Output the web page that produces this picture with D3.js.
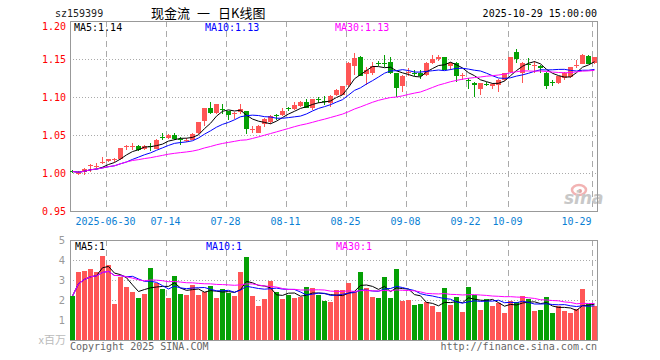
<!DOCTYPE html>
<html>
<head>
    <meta charset="utf-8" />
    <title>现金流 日K线图</title>
    <style>
        body { margin: 0; background: #fff; }
        text { font-family: "DejaVu Sans Mono", monospace; font-size: 10px; }
        .grid-h { stroke: #aaa; stroke-dasharray: 1,2; shape-rendering: crispEdges; }
        .grid-v { stroke: #aaa; stroke-dasharray: 6,4; shape-rendering: crispEdges; }
        .frame { fill: none; stroke: #999; shape-rendering: crispEdges; }
        .axis path, .axis line { display: none; }
        .ma { fill: none; stroke-width: 1px; }
        .cjk { font-family: "Noto Sans CJK SC", sans-serif; font-size: 13px; }
    </style>
    <script src="https://cdn.jsdelivr.net/npm/d3@7"></script>
</head>
<body>
<script>
    // trading days shown (2025)
    const dates = [
        '06-20','06-23','06-24','06-25','06-26','06-27','06-30',
        '07-01','07-02','07-03','07-04','07-07','07-08','07-09','07-10','07-11',
        '07-14','07-15','07-16','07-17','07-18','07-21','07-22','07-23','07-24','07-25',
        '07-28','07-29','07-30','07-31','08-01',
        '08-04','08-05','08-06','08-07','08-08','08-11','08-12','08-13','08-14','08-15',
        '08-18','08-19','08-20','08-21','08-22','08-25','08-26','08-27','08-28','08-29',
        '09-01','09-02','09-03','09-04','09-05','09-08','09-09','09-10','09-11','09-12',
        '09-15','09-16','09-17','09-18','09-19','09-22','09-23','09-24','09-25','09-26',
        '09-29','09-30','10-09','10-10','10-13','10-14','10-15','10-16','10-17',
        '10-20','10-21','10-22','10-23','10-24','10-27','10-28','10-29'
    ];
    const opens = [
        1.003, 1.000, 1.001, 1.009, 1.009, 1.013, 1.016, 1.017, 1.018, 1.035,
        1.035, 1.036, 1.031, 1.036, 1.032, 1.047, 1.046, 1.050, 1.045, 1.044,
        1.044, 1.052, 1.068, 1.086, 1.079, 1.084, 1.081, 1.078, 1.080, 1.081,
        1.057, 1.053, 1.064, 1.067, 1.076, 1.076, 1.086, 1.084, 1.088, 1.093,
        1.085, 1.097, 1.095, 1.092, 1.103, 1.103, 1.116, 1.141, 1.153, 1.130,
        1.131, 1.145, 1.145, 1.146, 1.131, 1.114, 1.132, 1.132, 1.132, 1.129,
        1.145, 1.150, 1.152, 1.141, 1.145, 1.129, 1.123, 1.119, 1.110, 1.117,
        1.115, 1.116, 1.122, 1.133, 1.159, 1.132, 1.144, 1.142, 1.141, 1.132,
        1.120, 1.118, 1.125, 1.126, 1.142, 1.144, 1.154, 1.145
    ];
    const highs = [
        1.004, 1.003, 1.006, 1.012, 1.013, 1.021, 1.019, 1.020, 1.033, 1.037,
        1.040, 1.037, 1.037, 1.039, 1.045, 1.053, 1.051, 1.052, 1.047, 1.046,
        1.052, 1.067, 1.086, 1.093, 1.091, 1.091, 1.082, 1.080, 1.091, 1.082,
        1.062, 1.063, 1.072, 1.076, 1.078, 1.086, 1.087, 1.093, 1.095, 1.097,
        1.098, 1.100, 1.101, 1.102, 1.110, 1.115, 1.146, 1.158, 1.154, 1.139,
        1.146, 1.147, 1.155, 1.153, 1.132, 1.129, 1.138, 1.136, 1.135, 1.146,
        1.155, 1.155, 1.153, 1.146, 1.146, 1.132, 1.125, 1.120, 1.119, 1.120,
        1.118, 1.124, 1.131, 1.153, 1.163, 1.146, 1.151, 1.148, 1.142, 1.133,
        1.123, 1.128, 1.133, 1.140, 1.149, 1.157, 1.155, 1.153
    ];
    const lows = [
        1.000, 0.997, 0.997, 1.001, 1.006, 1.012, 1.014, 1.015, 1.017, 1.030,
        1.030, 1.029, 1.030, 1.029, 1.031, 1.044, 1.045, 1.043, 1.037, 1.041,
        1.043, 1.051, 1.062, 1.078, 1.078, 1.078, 1.070, 1.071, 1.078, 1.051,
        1.053, 1.052, 1.061, 1.065, 1.070, 1.075, 1.081, 1.083, 1.087, 1.085,
        1.083, 1.092, 1.089, 1.087, 1.101, 1.102, 1.113, 1.129, 1.127, 1.116,
        1.129, 1.141, 1.139, 1.130, 1.100, 1.107, 1.127, 1.127, 1.124, 1.127,
        1.144, 1.148, 1.135, 1.136, 1.120, 1.123, 1.111, 1.100, 1.103, 1.114,
        1.110, 1.106, 1.121, 1.132, 1.145, 1.118, 1.135, 1.131, 1.131, 1.111,
        1.114, 1.117, 1.122, 1.125, 1.138, 1.143, 1.143, 1.144
    ];
    const closes = [
        1.002, 1.000, 1.005, 1.010, 1.009, 1.014, 1.018, 1.018, 1.033, 1.036,
        1.036, 1.030, 1.036, 1.035, 1.043, 1.046, 1.050, 1.045, 1.044, 1.044,
        1.051, 1.067, 1.086, 1.079, 1.091, 1.083, 1.076, 1.079, 1.084, 1.058,
        1.058, 1.062, 1.071, 1.075, 1.075, 1.082, 1.085, 1.089, 1.094, 1.086,
        1.097, 1.096, 1.094, 1.101, 1.109, 1.114, 1.145, 1.151, 1.128, 1.136,
        1.141, 1.144, 1.144, 1.131, 1.112, 1.128, 1.133, 1.131, 1.128, 1.145,
        1.150, 1.153, 1.136, 1.145, 1.128, 1.129, 1.122, 1.116, 1.118, 1.116,
        1.117, 1.123, 1.131, 1.153, 1.150, 1.145, 1.143, 1.142, 1.138, 1.114,
        1.119, 1.128, 1.132, 1.139, 1.142, 1.155, 1.143, 1.153
    ];
    // volume, millions of shares
    const volumes = [
        2.20, 3.42, 3.47, 3.55, 3.42, 4.20, 3.75, 1.80, 3.17, 2.65,
        2.40, 2.10, 2.30, 3.60, 2.85, 2.55, 2.10, 3.20, 2.30, 2.25,
        2.75, 2.25, 2.40, 2.70, 2.10, 2.55, 2.35, 2.20, 3.40, 4.15,
        2.20, 1.70, 2.05, 2.95, 2.40, 2.05, 2.25, 2.10, 2.15, 2.65,
        2.60, 2.25, 1.95, 1.90, 2.50, 2.50, 2.85, 2.40, 3.40, 2.60,
        2.15, 2.10, 3.15, 2.10, 3.55, 1.95, 2.00, 1.75, 1.80, 1.90,
        1.70, 1.40, 2.60, 1.75, 2.15, 1.40, 2.65, 2.25, 1.50, 2.05,
        1.70, 1.85, 1.35, 1.95, 1.90, 2.20, 2.05, 1.45, 1.50, 2.15,
        1.35, 1.70, 1.45, 1.35, 1.55, 2.55, 1.80, 1.70
    ];
    const tickDates = ['06-30', '07-14', '07-28', '08-11', '08-25', '09-08', '09-22', '10-09', '10-29'];
    const tickLabels = ['2025-06-30', '07-14', '07-28', '08-11', '08-25', '09-08', '09-22', '10-09', '10-29'];
    const priceTicks = [1.20, 1.15, 1.10, 1.05, 1.00, 0.95];
    const volTicks = [1, 2, 3, 4, 5];
    const maPeriods = [5, 10, 30];
    const maColors = ['#000', '#0000ff', '#ff00ff'];
    const priceMaLabels = ['MA5:1.14', 'MA10:1.13', 'MA30:1.13'];
    const volMaLabels = ['MA5:1', 'MA10:1', 'MA30:1'];
    const titleParts = ['现金流', '一', '日K线图'];

    const red = '#ff5656',
        green = '#05a005';

    // panel edges
    const left = 70, right = 598,
        pTop = 21, pBottom = 211,
        vTop = 240, vBottom = 340;

    let x = d3.scaleBand().domain(dates).range([left, right]).padding(0);
    let y = d3.scaleLinear().domain([0.95, 1.20]).range([pBottom, pTop]);
    let vy = d3.scaleLinear().domain([0, 5]).range([vBottom, vTop]);
    const bw = 5;

    // moving average (shorter window where history is missing)
    function movingAvg(arr, n) {
        return arr.map((d, i) => {
            let s = arr.slice(Math.max(0, i - n + 1), i + 1);
            return d3.mean(s);
        });
    }

    let svg = d3.select('body')
        .append('svg')
            .attr('width', 660)
            .attr('height', 360);

    svg.append('rect').attr('width', 660).attr('height', 360).attr('fill', '#fff');

    // header
    svg.append('text').attr('x', 55).attr('y', 16.5).attr('fill', '#222').text('sz159399');
    const titleX = [151, 197, 218];
    titleParts.forEach((t, k) => {
        svg.append('text').attr('class', 'cjk').attr('x', titleX[k]).attr('y', 17.5).text(t);
    });
    svg.append('text').attr('x', 597).attr('y', 16.5).attr('text-anchor', 'end')
        .text('2025-10-29 15:00:00');

    // grids
    [[pTop, pBottom], [vTop, vBottom]].forEach(p => {
        svg.append('g').selectAll('line')
            .data(tickDates)
            .enter().append('line')
                .attr('class', 'grid-v')
                .attr('x1', d => x(d) + 0.5).attr('x2', d => x(d) + 0.5)
                .attr('y1', p[0]).attr('y2', p[1]);
    });
    svg.append('g').selectAll('line')
        .data(priceTicks.filter(d => d < 1.2 && d > 0.95))
        .enter().append('line')
            .attr('class', 'grid-h')
            .attr('x1', left).attr('x2', right)
            .attr('y1', d => Math.round(y(d)) + 0.5).attr('y2', d => Math.round(y(d)) + 0.5);
    svg.append('g').selectAll('line')
        .data(volTicks.filter(d => d < 5))
        .enter().append('line')
            .attr('class', 'grid-h')
            .attr('x1', left).attr('x2', right)
            .attr('y1', d => Math.round(vy(d)) + 0.5).attr('y2', d => Math.round(vy(d)) + 0.5);

    // sina watermark
    let wm = svg.append('g').attr('transform', 'translate(564, 184)');
    wm.append('ellipse').attr('cx', 15).attr('cy', 6).attr('rx', 7).attr('ry', 5)
        .attr('fill', 'none').attr('stroke', '#f2b3b3').attr('stroke-width', 2.5);
    wm.append('circle').attr('cx', 16).attr('cy', 7).attr('r', 2).attr('fill', '#e8a0a0');
    wm.append('text').attr('x', 0).attr('y', 20)
        .style('font-family', '"DejaVu Sans", sans-serif').style('font-size', '17px')
        .style('font-weight', 'bold').style('font-style', 'italic')
        .attr('fill', '#c8c8c8').text('sina');

    // frames
    svg.append('rect').attr('class', 'frame')
        .attr('x', left + 0.5).attr('y', pTop + 0.5).attr('width', right - left - 1).attr('height', pBottom - pTop);
    svg.append('rect').attr('class', 'frame')
        .attr('x', left + 0.5).attr('y', vTop + 0.5).attr('width', right - left - 1).attr('height', vBottom - vTop);

    // candles
    let candles = svg.append('g').selectAll('g')
        .data(dates)
        .enter().append('g');
    const col = i => closes[i] >= opens[i] ? red : green;
    candles.append('line')
        .attr('x1', d => x(d) + 2.5).attr('x2', d => x(d) + 2.5)
        .attr('y1', (d, i) => Math.round(y(highs[i])))
        .attr('y2', (d, i) => Math.round(y(lows[i])))
        .attr('stroke', (d, i) => col(i));
    candles.append('rect')
        .attr('x', d => x(d))
        .attr('width', bw)
        .attr('y', (d, i) => Math.round(y(Math.max(opens[i], closes[i]))))
        .attr('height', (d, i) => Math.max(1, Math.round(y(Math.min(opens[i], closes[i]))) - Math.round(y(Math.max(opens[i], closes[i])))))
        .attr('fill', (d, i) => col(i));

    // volume bars
    svg.append('g').selectAll('rect')
        .data(dates)
        .enter().append('rect')
            .attr('x', d => x(d))
            .attr('width', bw)
            .attr('y', (d, i) => Math.round(vy(volumes[i])))
            .attr('height', (d, i) => vBottom - Math.round(vy(volumes[i])))
            .attr('fill', (d, i) => col(i));

    // moving averages
    maPeriods.forEach((n, k) => {
        let pm = movingAvg(closes, n),
            vm = movingAvg(volumes, n);
        svg.append('path')
            .attr('class', 'ma')
            .attr('stroke', maColors[k])
            .attr('d', d3.line().x((d, i) => x(dates[i]) + 2.5).y(d => y(d))(pm));
        svg.append('path')
            .attr('class', 'ma')
            .attr('stroke', maColors[k])
            .attr('d', d3.line().x((d, i) => x(dates[i]) + 2.5).y(d => vy(d))(vm));
    });

    // ma labels
    const labelX = [74, 205, 335];
    priceMaLabels.forEach((t, k) => {
        svg.append('text').attr('x', labelX[k]).attr('y', 30.5).attr('fill', maColors[k]).text(t);
    });
    volMaLabels.forEach((t, k) => {
        svg.append('text').attr('x', labelX[k] + 1).attr('y', 249.5).attr('fill', maColors[k]).text(t);
    });

    // price axis
    let yAxis = svg.append('g')
        .attr('class', 'axis')
        .attr('transform', 'translate(' + left + ', 0)')
        .call(d3.axisLeft(y).tickValues(priceTicks).tickSize(0).tickPadding(4).tickFormat(d3.format('.2f')));
    yAxis.selectAll('text').attr('fill', '#f00').style('font-family', '"DejaVu Sans Mono", monospace').style('font-size', '10px');
    // top label sits just inside the frame
    yAxis.selectAll('text').filter(d => d === priceTicks[0]).attr('y', 5);

    // volume axis
    let vAxis = svg.append('g')
        .attr('class', 'axis')
        .attr('transform', 'translate(' + (left - 1) + ', 0)')
        .call(d3.axisLeft(vy).tickValues(volTicks).tickSize(0).tickPadding(4).tickFormat(d3.format('d')));
    vAxis.selectAll('text').attr('fill', '#999').style('font-family', '"DejaVu Sans", sans-serif').style('font-size', '10px');
    svg.append('text').attr('x', 66).attr('y', 343.5).attr('text-anchor', 'end')
        .style('font-family', '"Noto Sans CJK SC", sans-serif').style('font-size', '11px')
        .attr('fill', '#bbb').text('x百万');

    // date axis
    let xAxis = svg.append('g')
        .attr('class', 'axis')
        .attr('transform', 'translate(-3.5, 215)')
        .call(d3.axisBottom(x).tickValues(tickDates).tickSize(0).tickPadding(3)
            .tickFormat(d => tickLabels[tickDates.indexOf(d)]));
    xAxis.selectAll('text').attr('fill', '#0b7fd4').style('font-family', '"DejaVu Sans Mono", monospace').style('font-size', '10px');
    xAxis.selectAll('text').filter(d => d === tickDates[tickDates.length - 1]).attr('text-anchor', 'end');

    // footer
    svg.append('text').attr('x', 70).attr('y', 349.5).attr('fill', '#666').text('Copyright 2025 SINA.COM');
    svg.append('text').attr('x', 597).attr('y', 349.5).attr('text-anchor', 'end').attr('fill', '#666')
        .text('http://finance.sina.com.cn');
</script>
</body>
</html>
